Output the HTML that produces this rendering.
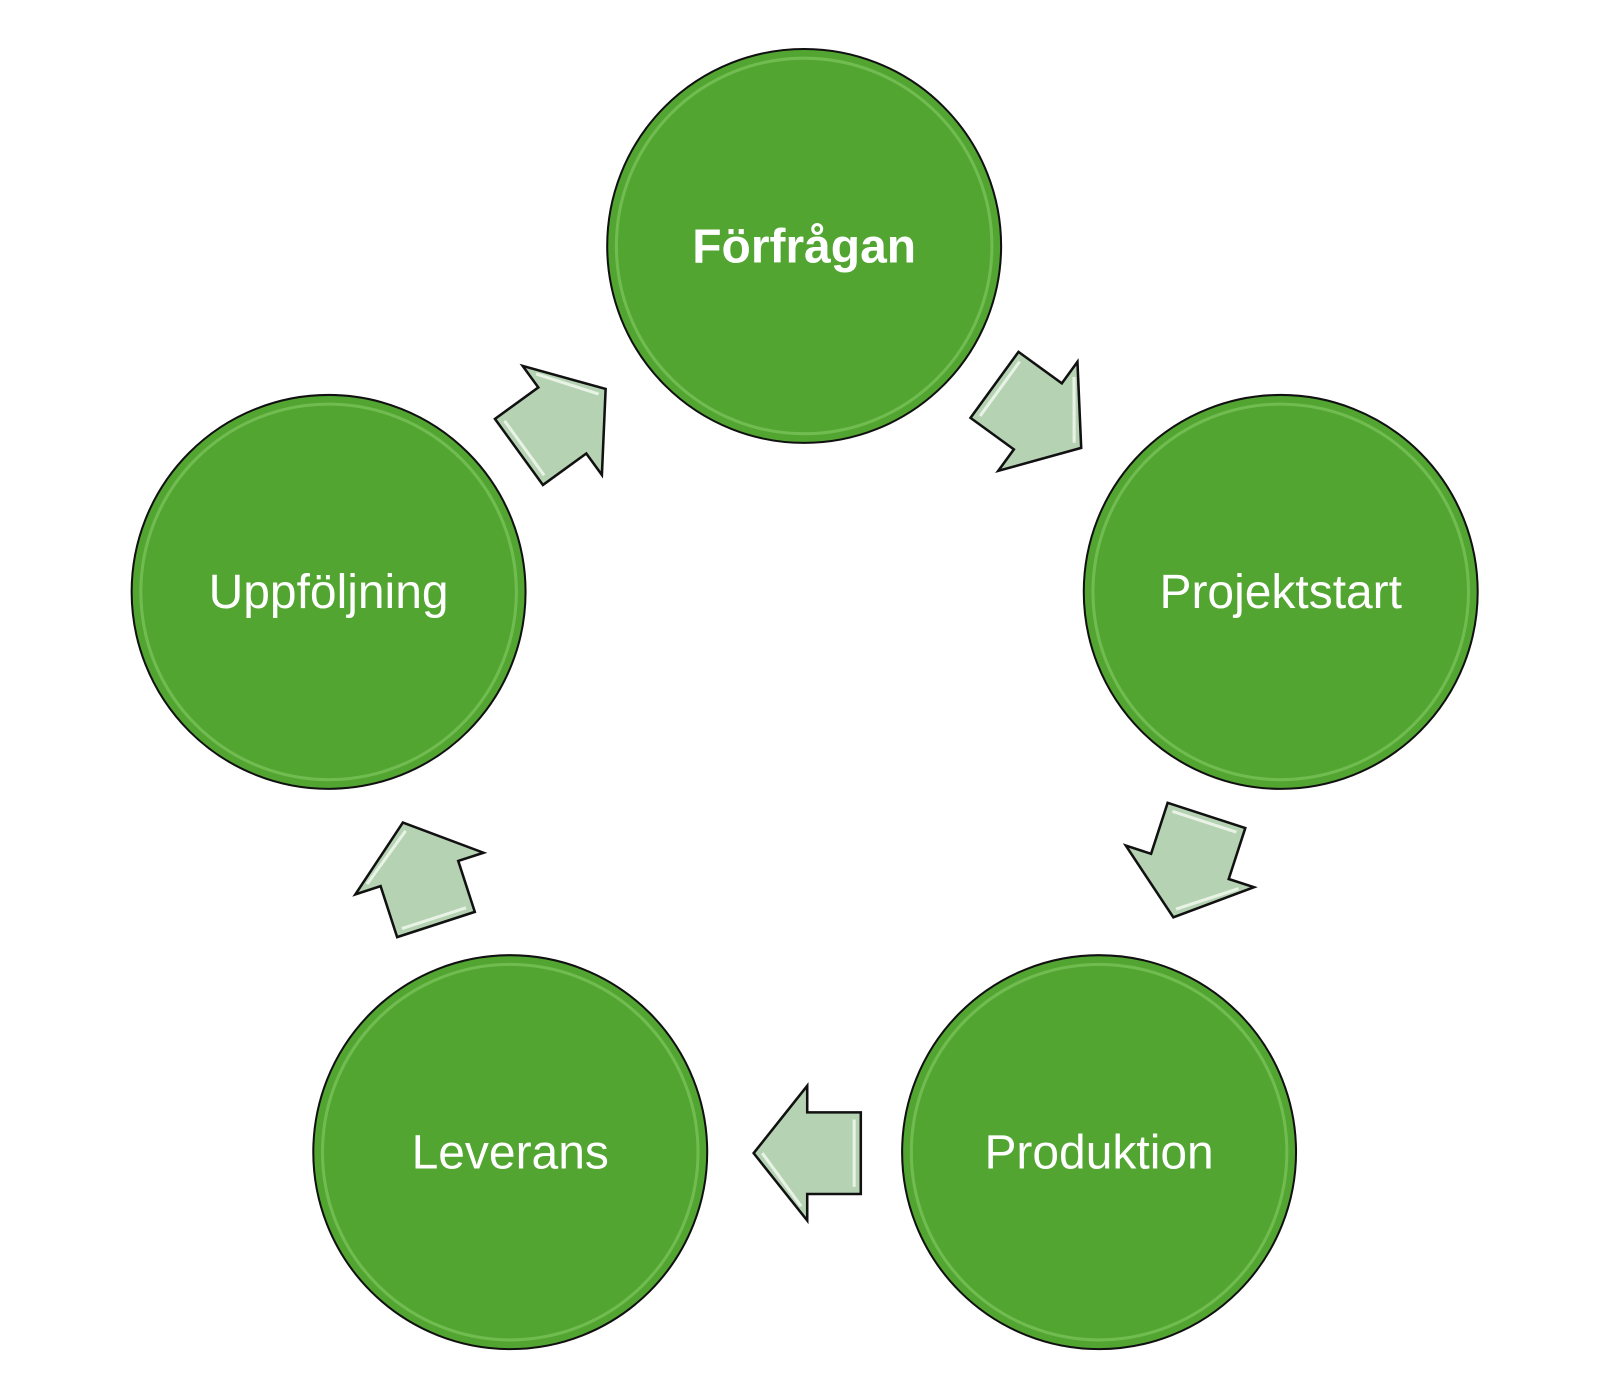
<!DOCTYPE html>
<html><head><style>body{margin:0;background:#fff}</style></head><body>
<svg width="1597" height="1392" viewBox="0 0 1597 1392" xmlns="http://www.w3.org/2000/svg">
<defs>
<g id="c"><circle r="193" fill="#52a531" stroke="#111" stroke-width="2"/>
<circle r="184" fill="none" stroke="#8fd46f" stroke-width="3" opacity="0.5"/></g>
<g id="a"><polygon points="-52.5,-40 0,-40 0,-66 52.5,0 0,66 0,40 -52.5,40" fill="#b5d3b3" stroke="#111" stroke-width="2.5" stroke-linejoin="miter"/>
<polyline points="-46,-33 -46,33" stroke="#e8f3e6" stroke-width="3" fill="none"/>
<polyline points="6,-52 44,0" stroke="#e8f3e6" stroke-width="3" fill="none"/></g>
</defs>
<g transform="scale(1.0205)">
<use href="#c" x="788" y="241"/>
<use href="#c" x="1255" y="580"/>
<use href="#c" x="1077" y="1129"/>
<use href="#c" x="500" y="1129"/>
<use href="#c" x="322" y="580"/>
<use href="#a" transform="translate(1017,408) rotate(36)"/>
<use href="#a" transform="translate(1166,849) rotate(108)"/>
<use href="#a" transform="translate(791,1130) rotate(180)"/>
<use href="#a" transform="translate(411,856) rotate(252)"/>
<use href="#a" transform="translate(551,412) rotate(-36)"/>
<g font-family="Liberation Sans, sans-serif" font-size="47" fill="#fff" text-anchor="middle">
<text x="788" y="257" font-weight="bold">Förfrågan</text>
<text x="1255" y="596">Projektstart</text>
<text x="1077" y="1145">Produktion</text>
<text x="500" y="1145">Leverans</text>
<text x="322" y="596">Uppföljning</text>
</g>
</g>
</svg>
</body></html>
